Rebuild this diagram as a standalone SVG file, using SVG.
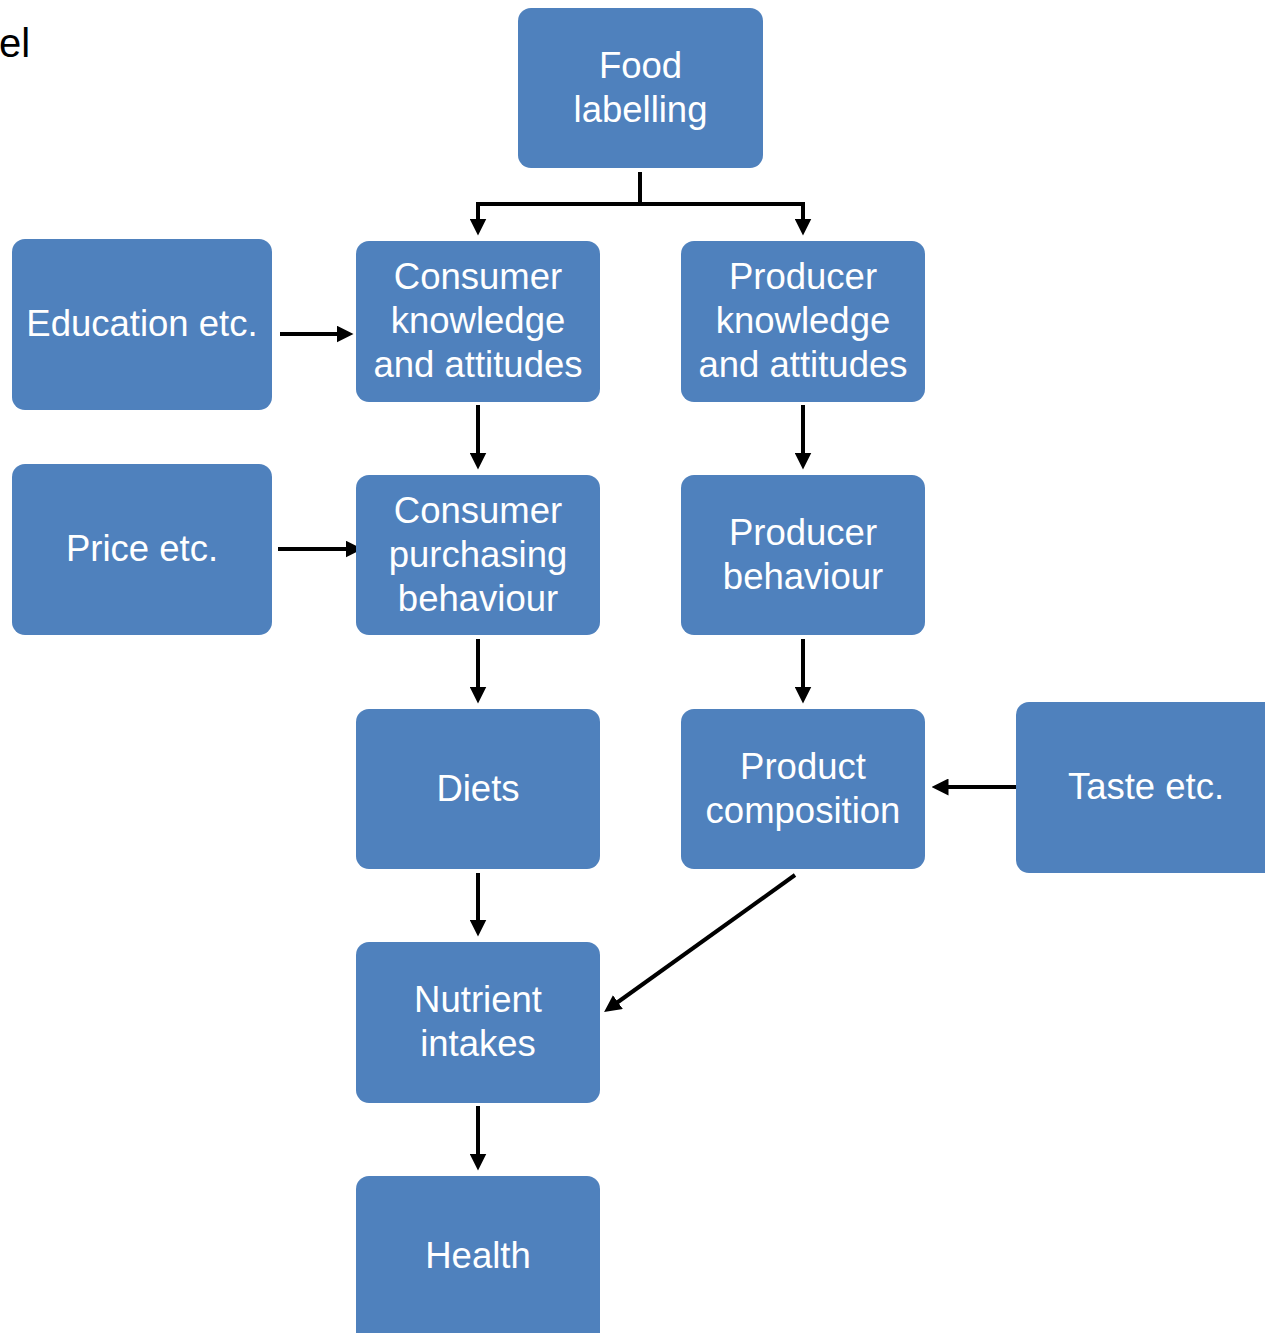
<svg xmlns="http://www.w3.org/2000/svg" width="1265" height="1333" viewBox="0 0 1265 1333">
<style>
.box{fill:#4F81BD;}
.t{fill:#FFFFFF;font-family:"Liberation Sans",Arial,sans-serif;font-size:36.5px;text-anchor:middle;}
.c{fill:none;stroke:#000;stroke-width:4;marker-end:url(#ah);}
</style>
<defs>
<marker id="ah" viewBox="0 0 16 16" refX="8" refY="8" markerWidth="17" markerHeight="17" markerUnits="userSpaceOnUse" orient="auto">
<path d="M0,0 L16,8 L0,16 z" fill="#000"/>
</marker>
</defs>
<rect width="1265" height="1333" fill="#FFFFFF"/>
<text x="-1" y="57" font-family="Liberation Sans,Arial,sans-serif" font-size="40" fill="#000">el</text>
<g id="connectors">
<path class="c" d="M640,172 V204 H478 V227"/>
<path class="c" d="M640,204 H803 V227"/>
<path class="c" d="M280,334 H345"/>
<path class="c" d="M278,549 H354"/>
<path class="c" d="M478,405 V461"/>
<path class="c" d="M803,405 V461"/>
<path class="c" d="M478,639 V695"/>
<path class="c" d="M803,639 V695"/>
<path class="c" d="M1020,787 H940"/>
<path class="c" d="M478,873 V928"/>
<path class="c" d="M795,875 L611,1007"/>
<path class="c" d="M478,1106 V1162"/>
</g>
<g id="food"><rect class="box" x="518" y="8" width="245" height="160" rx="13"/><text class="t" x="640.5" y="78">Food</text><text class="t" x="640.5" y="122">labelling</text></g>
<g id="education"><rect class="box" x="12" y="239" width="260" height="171" rx="13"/><text class="t" x="142" y="336">Education etc.</text></g>
<g id="consumer-knowledge"><rect class="box" x="356" y="241" width="244" height="161" rx="13"/><text class="t" x="478" y="289">Consumer</text><text class="t" x="478" y="333">knowledge</text><text class="t" x="478" y="377">and attitudes</text></g>
<g id="producer-knowledge"><rect class="box" x="681" y="241" width="244" height="161" rx="13"/><text class="t" x="803" y="289">Producer</text><text class="t" x="803" y="333">knowledge</text><text class="t" x="803" y="377">and attitudes</text></g>
<g id="price"><rect class="box" x="12" y="464" width="260" height="171" rx="13"/><text class="t" x="142" y="561">Price etc.</text></g>
<g id="consumer-purchasing"><rect class="box" x="356" y="475" width="244" height="160" rx="13"/><text class="t" x="478" y="523">Consumer</text><text class="t" x="478" y="567">purchasing</text><text class="t" x="478" y="611">behaviour</text></g>
<g id="producer-behaviour"><rect class="box" x="681" y="475" width="244" height="160" rx="13"/><text class="t" x="803" y="545">Producer</text><text class="t" x="803" y="589">behaviour</text></g>
<g id="diets"><rect class="box" x="356" y="709" width="244" height="160" rx="13"/><text class="t" x="478" y="801">Diets</text></g>
<g id="product-composition"><rect class="box" x="681" y="709" width="244" height="160" rx="13"/><text class="t" x="803" y="779">Product</text><text class="t" x="803" y="823">composition</text></g>
<g id="taste"><rect class="box" x="1016" y="702" width="270" height="171" rx="13"/><text class="t" x="1146" y="799">Taste etc.</text></g>
<g id="nutrient"><rect class="box" x="356" y="942" width="244" height="161" rx="13"/><text class="t" x="478" y="1012">Nutrient</text><text class="t" x="478" y="1056">intakes</text></g>
<g id="health"><rect class="box" x="356" y="1176" width="244" height="170" rx="13"/><text class="t" x="478" y="1268">Health</text></g>
</svg>
